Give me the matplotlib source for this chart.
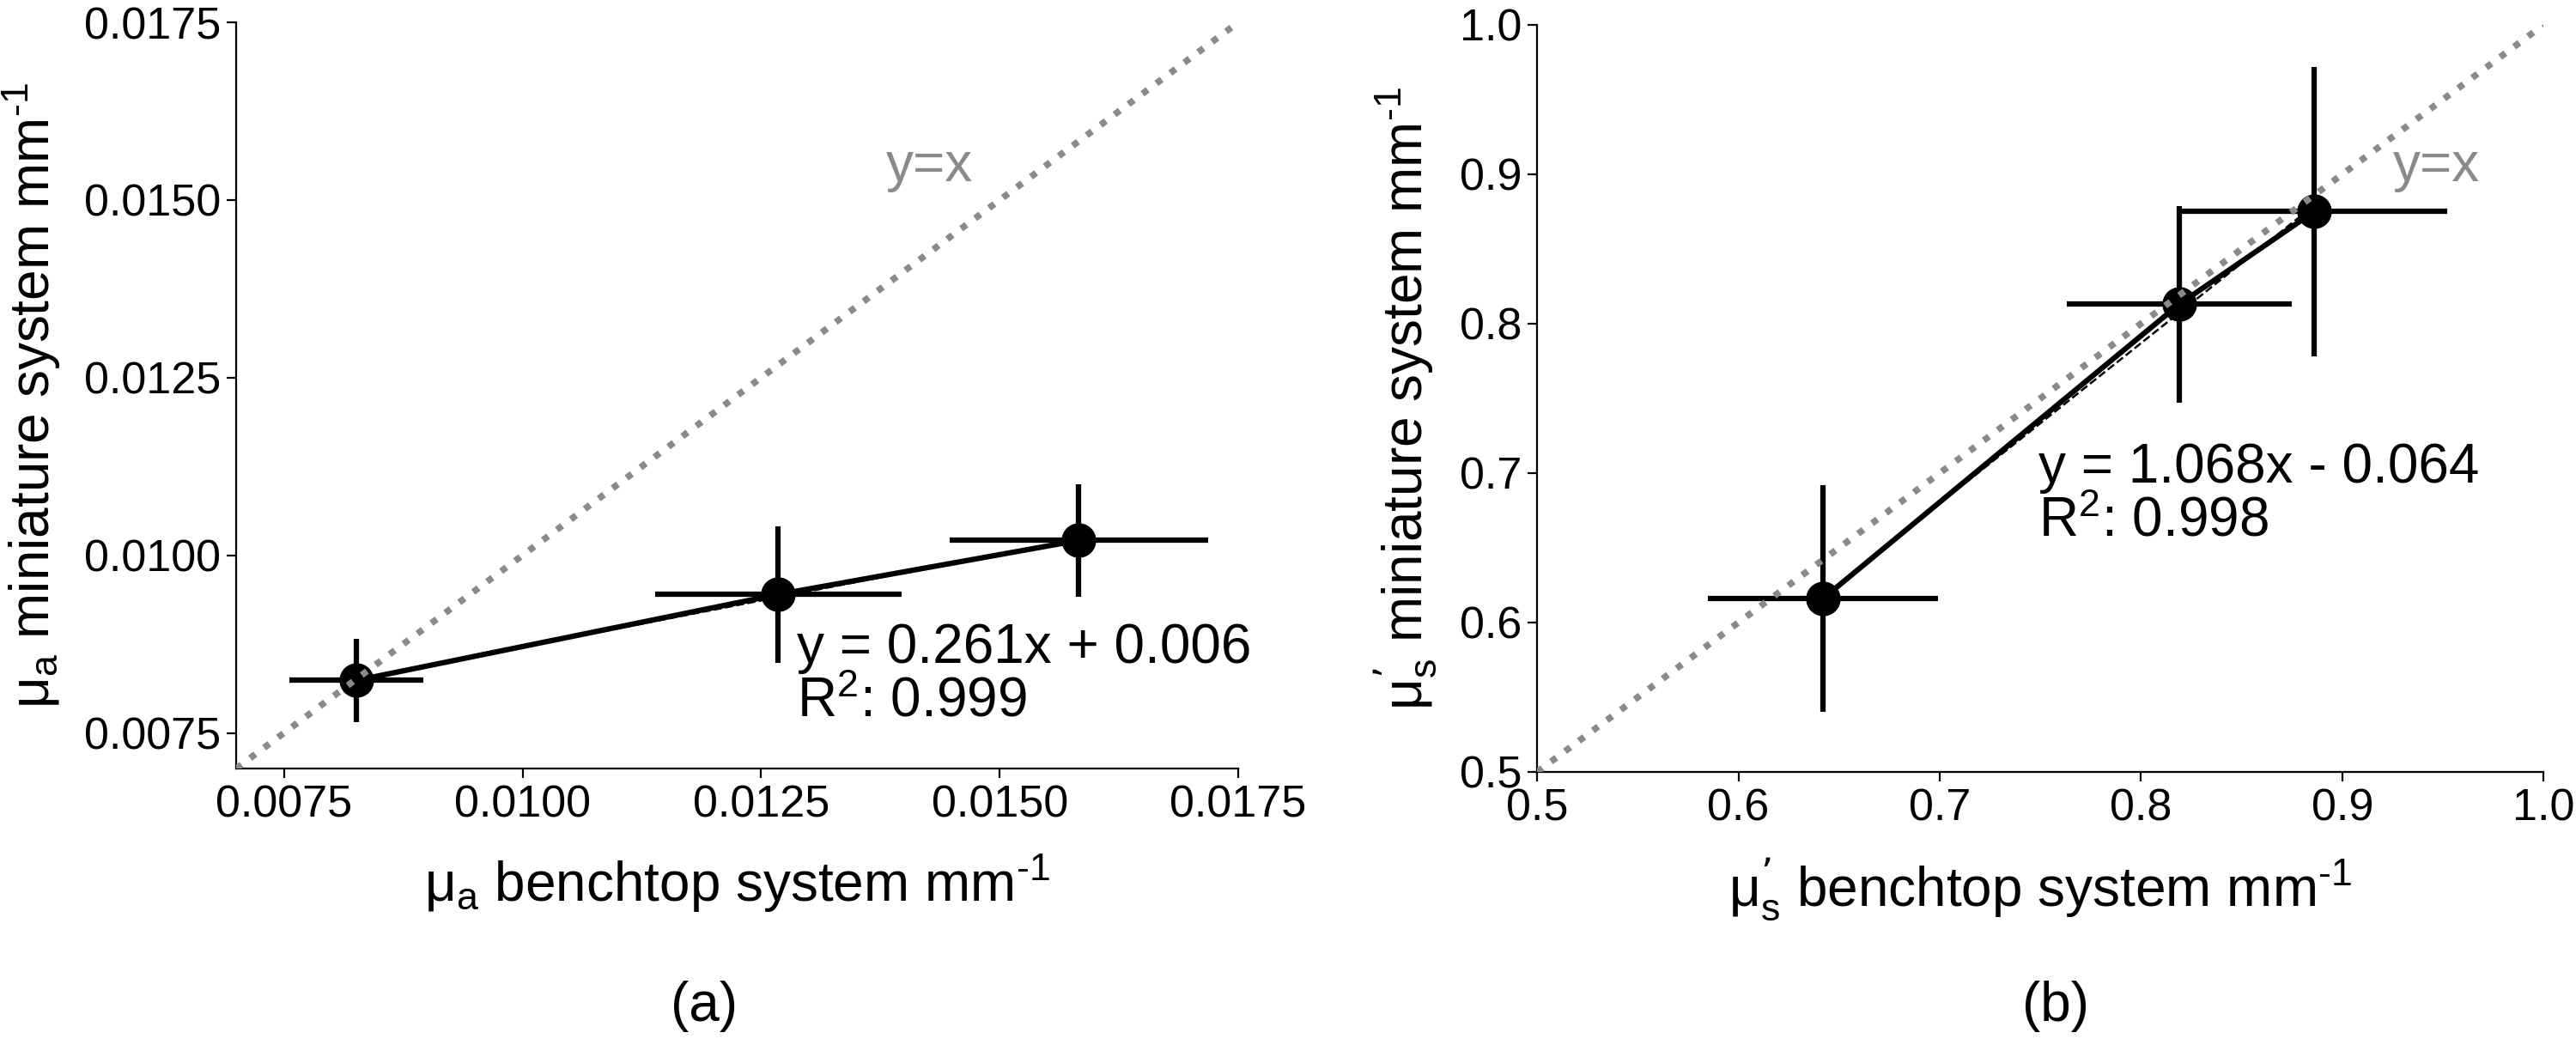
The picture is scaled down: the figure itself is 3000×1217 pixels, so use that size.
import matplotlib
matplotlib.use("Agg")
import matplotlib.pyplot as plt
import numpy as np

plt.rcParams['font.family'] = ['Liberation Sans', 'DejaVu Sans']
plt.rcParams['mathtext.default'] = 'regular'

# panel (a): absorption coefficient
mua_bench = [0.00826, 0.01268, 0.01583]
mua_bench_err = [0.00070, 0.00129, 0.00135]
mua_mini = [0.00824, 0.00945, 0.01021]
mua_mini_err = [0.00059, 0.00096, 0.00079]
mua_ticks = [0.0075, 0.0100, 0.0125, 0.0150, 0.0175]

# panel (b): reduced scattering coefficient
mus_bench = [0.642, 0.819, 0.886]
mus_bench_err = [0.057, 0.056, 0.066]
mus_mini = [0.616, 0.813, 0.875]
mus_mini_err = [0.076, 0.066, 0.097]
mus_ticks = [0.5, 0.6, 0.7, 0.8, 0.9, 1.0]

fig = plt.figure(figsize=(30, 12.17), dpi=100)
ax1 = fig.add_axes([0.0917, 0.2646, 0.389, 0.714])
ax2 = fig.add_axes([0.5967, 0.2613, 0.3907, 0.7149])

inv_mm = 'mm$^{\u2010 1}$'


def draw_panel(ax, x, xerr, y, yerr, lims, ticks, fmt, eq, eq_pos, yx_pos,
               xlabel, ylabel):
    ax.plot(lims, lims, linestyle=':', color='#8a8a8a', lw=5.5, zorder=5)
    ax.text(yx_pos[0], yx_pos[1], 'y=x', color='#8a8a8a', fontsize=46,
            va='center', ha='left')
    ax.errorbar(x, y, xerr=xerr, yerr=yerr, fmt='o-', color='black', ms=28,
                lw=4.5, elinewidth=4.5, capsize=0, zorder=3)
    # linear fit (dashed)
    k, b = np.polyfit(x, y, 1)
    xs = np.array([x[0], x[-1]])
    ax.plot(xs, k * xs + b, '--', color='black', lw=1.8, zorder=4)
    ax.text(eq_pos[0], eq_pos[1], eq, fontsize=46, va='top', ha='left',
            linespacing=1.05)
    ax.set_xlim(lims)
    ax.set_ylim(lims)
    ax.set_xticks(ticks)
    ax.set_yticks(ticks)
    ax.set_xticklabels([fmt.format(t) for t in ticks])
    ax.set_yticklabels([fmt.format(t) for t in ticks])
    for s in ['top', 'right']:
        ax.spines[s].set_visible(False)
    for s in ['left', 'bottom']:
        ax.spines[s].set_linewidth(1.6)
    ax.tick_params(labelsize=37.5, length=8, width=1.6, pad=5)
    ax.set_xlabel(xlabel, fontsize=46, labelpad=22)
    ax.set_ylabel(ylabel, fontsize=46, labelpad=18)


draw_panel(ax1, mua_bench, mua_bench_err, mua_mini, mua_mini_err,
           [0.007, 0.0175], mua_ticks, '{:.4f}',
           'y = 0.261x + 0.006\nR$^{2}$: 0.999', (0.01287, 0.00905),
           (0.01381, 0.01547),
           'μ$_{a}$ benchtop system ' + inv_mm,
           'μ$_{a}$ miniature system ' + inv_mm)

draw_panel(ax2, mus_bench, mus_bench_err, mus_mini, mus_mini_err,
           [0.5, 1.0], mus_ticks, '{:.1f}',
           'y = 1.068x - 0.064\nR$^{2}$: 0.998', (0.749, 0.7205),
           (0.925, 0.905),
           'μ$_{s}^{\u2019}$ benchtop system ' + inv_mm,
           'μ$_{s}^{\u2019}$ miniature system ' + inv_mm)

fig.text(0.2733, 0.012, '(a)', fontsize=46, ha='center', va='bottom')
fig.text(0.798, 0.012, '(b)', fontsize=46, ha='center', va='bottom')

fig.savefig('out.png', dpi=100)
